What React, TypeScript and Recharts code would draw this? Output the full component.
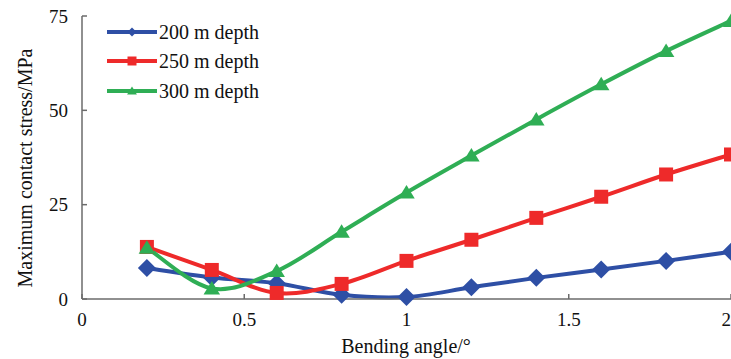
import React from 'react';
import { LineChart, Line, XAxis, YAxis, Legend } from 'recharts';

const angles = [0.2, 0.4, 0.6, 0.8, 1.0, 1.2, 1.4, 1.6, 1.8, 2.0];
const depth200 = [8.2, 5.7, 4.2, 1.1, 0.5, 3.1, 5.6, 7.8, 10.1, 12.5];
const depth250 = [13.8, 7.7, 1.6, 4.0, 10.1, 15.7, 21.5, 27.1, 33.0, 38.3];
const depth300 = [13.6, 2.8, 7.4, 17.8, 28.2, 38.0, 47.6, 56.9, 65.7, 73.7];
const xTicks = [0, 0.5, 1, 1.5, 2];
const yTicks = [0, 25, 50, 75];
const seriesNames = ['200 m depth', '250 m depth', '300 m depth'];
const seriesKeys = ['d200', 'd250', 'd300'];
const seriesColors = ['#2E4FA5', '#EE2A2A', '#2FAE55'];
const seriesShapes = ['diamond', 'square', 'triangle'];

const data = angles.map((a, i) => ({
  angle: a,
  d200: depth200[i],
  d250: depth250[i],
  d300: depth300[i],
}));

const FONT = 'Liberation Serif, Times New Roman, DejaVu Serif, serif';

// Excel-like smooth line (Catmull-Rom / cardinal with tension 0)
const smoothCurve = (context: any) => {
  let pts: number[][] = [];
  return {
    areaStart() {},
    areaEnd() {},
    lineStart() {
      pts = [];
    },
    point(x: number, y: number) {
      pts.push([+x, +y]);
    },
    lineEnd() {
      if (!pts.length) return;
      context.moveTo(pts[0][0], pts[0][1]);
      for (let i = 0; i < pts.length - 1; i++) {
        const p0 = pts[i - 1] || pts[i];
        const p1 = pts[i];
        const p2 = pts[i + 1];
        const p3 = pts[i + 2] || pts[i + 1];
        const c1x = p1[0] + (p2[0] - p0[0]) / 6;
        const c1y = p1[1] + (p2[1] - p0[1]) / 6;
        const c2x = p2[0] - (p3[0] - p1[0]) / 6;
        const c2y = p2[1] - (p3[1] - p1[1]) / 6;
        context.bezierCurveTo(c1x, c1y, c2x, c2y, p2[0], p2[1]);
      }
    },
  };
};

const markerPath = (shape: string, cx: number, cy: number, s: number) => {
  if (shape === 'diamond') {
    return `M${cx},${cy - s}L${cx + s},${cy}L${cx},${cy + s}L${cx - s},${cy}Z`;
  }
  if (shape === 'square') {
    return `M${cx - s},${cy - s}H${cx + s}V${cy + s}H${cx - s}Z`;
  }
  return `M${cx},${cy - s}L${cx + s * 1.1},${cy + s * 0.8}L${cx - s * 1.1},${cy + s * 0.8}Z`;
};

const markerSize: Record<string, number> = { diamond: 9, square: 7, triangle: 7.5 };

const makeDot = (shape: string, color: string) => (props: any) => {
  const { cx, cy, index } = props;
  if (cx == null || cy == null) return <g key={`e${index}`} />;
  return <path key={`${shape}${index}`} d={markerPath(shape, cx, cy, markerSize[shape])} fill={color} />;
};

const legendMarker: Record<string, number> = { diamond: 4.5, square: 4.5, triangle: 4.5 };

const LegendContent = () => (
  <div style={{ fontFamily: FONT, fontSize: 20, color: '#111' }}>
    {seriesNames.map((name, i) => (
      <div key={name} style={{ display: 'flex', alignItems: 'center', height: 29.5 }}>
        <svg width={52} height={14} style={{ display: 'block' }}>
          <line x1={1} y1={7} x2={51} y2={7} stroke={seriesColors[i]} strokeWidth={4} />
          <path d={markerPath(seriesShapes[i], 26, 7, legendMarker[seriesShapes[i]])} fill={seriesColors[i]} />
        </svg>
        <span style={{ marginLeft: 1, lineHeight: '20px' }}>{name}</span>
      </div>
    ))}
  </div>
);

const YLabel = () => (
  <text
    x={25}
    y={168}
    transform="rotate(-90 25 168)"
    textAnchor="middle"
    dominantBaseline="central"
    fontFamily={FONT}
    fontSize={20}
    fill="#111"
  >
    Maximum contact stress/MPa
  </text>
);

const XLabel = () => (
  <text x={406} y={353} textAnchor="middle" fontFamily={FONT} fontSize={20} fill="#111">
    Bending angle/°
  </text>
);

export default function App() {
  return (
    <div style={{ position: 'absolute', left: 0, top: 0, fontFamily: FONT }}>
      <LineChart
        width={731}
        height={359}
        data={data}
        margin={{ top: 16, right: 0, bottom: 0, left: 0 }}
      >
        <XAxis
          dataKey="angle"
          type="number"
          domain={[0, 2]}
          ticks={xTicks}
          tickFormatter={(v: number) => String(v)}
          height={60}
          stroke="#6b6b6b"
          strokeWidth={1.5}
          tickSize={-5}
          tickMargin={19}
          tick={{ fontFamily: FONT, fontSize: 19, fill: '#111' }}
          label={<XLabel />}
        />
        <YAxis
          type="number"
          domain={[0, 75]}
          ticks={yTicks}
          width={82}
          stroke="#6b6b6b"
          strokeWidth={1.5}
          tickSize={-5}
          tickMargin={19}
          tick={{ fontFamily: FONT, fontSize: 19, fill: '#111' }}
          label={<YLabel />}
        />
        <Legend
          layout="horizontal"
          verticalAlign="middle"
          align="center"
          content={<LegendContent />}
          wrapperStyle={{ position: 'absolute', left: 106, top: 17, width: 'auto', height: 'auto' }}
        />
        {seriesKeys.map((k, i) => (
          <Line
            key={k}
            dataKey={k}
            name={seriesNames[i]}
            type={smoothCurve as any}
            stroke={seriesColors[i]}
            strokeWidth={4}
            dot={makeDot(seriesShapes[i], seriesColors[i])}
            activeDot={false}
            isAnimationActive={false}
          />
        ))}
      </LineChart>
    </div>
  );
}
